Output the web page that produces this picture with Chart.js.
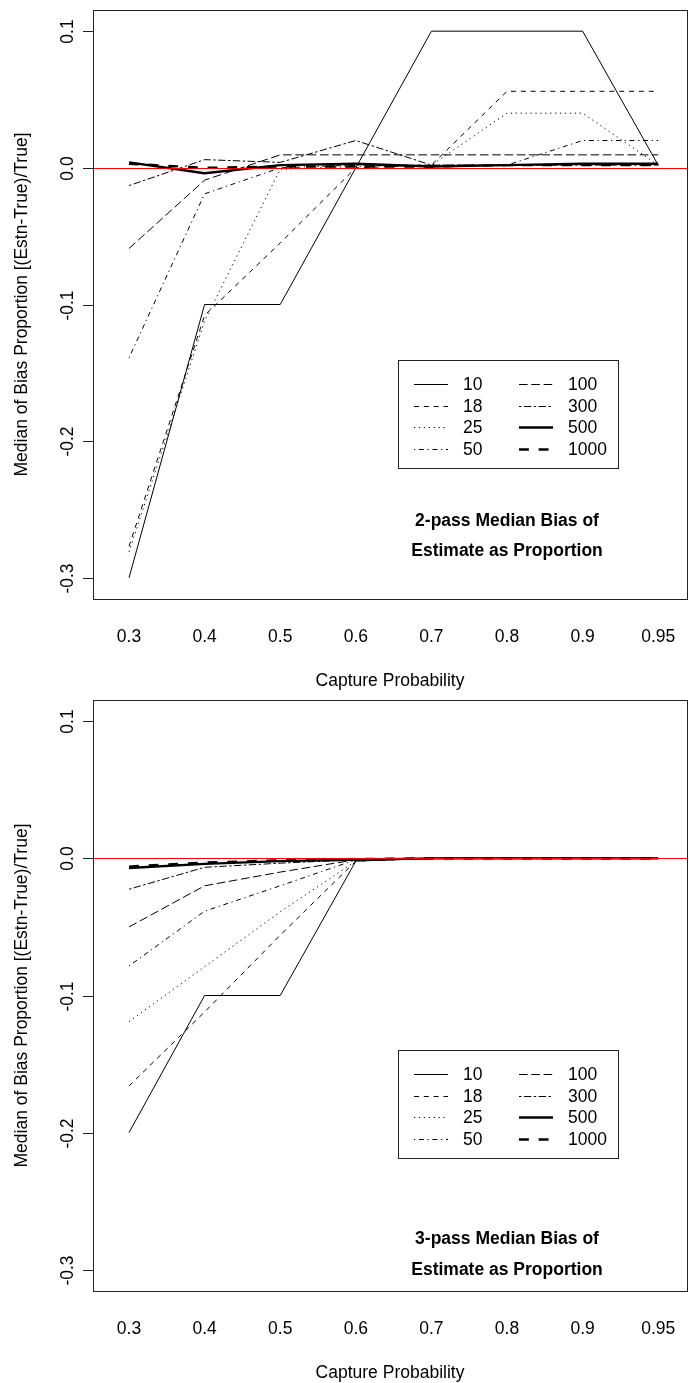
<!DOCTYPE html>
<html>
<head>
<meta charset="utf-8">
<script src="https://cdn.jsdelivr.net/npm/chart.js@4.4.1/dist/chart.umd.min.js"></script>
<style>
  body { margin: 0; background: #fff; }
  canvas { display: block; }
</style>
</head>
<body>
<canvas id="twoPass" width="689" height="691"></canvas>
<canvas id="threePass" width="689" height="692"></canvas>
<script>
// x categories (capture probability) and series names (population size)
const captureProb = ['0.3', '0.4', '0.5', '0.6', '0.7', '0.8', '0.9', '0.95'];
const popSizes = ['10', '18', '25', '50', '100', '300', '500', '1000'];
const yTicks = [0.1, 0.0, -0.1, -0.2, -0.3];
const yTickLabels = ['0.1', '0.0', '-0.1', '-0.2', '-0.3'];

// 2-pass median bias
const two10   = [-0.300, -0.100, -0.100, 0.000, 0.100, 0.100, 0.100, 0.002];
const two18   = [-0.277, -0.108, -0.055, 0.000, 0.002, 0.056, 0.056, 0.056];
const two25   = [-0.281, -0.112, -0.001, 0.001, 0.002, 0.040, 0.040, 0.002];
const two50   = [-0.139, -0.019, 0.000, 0.002, 0.002, 0.002, 0.020, 0.020];
const two100  = [-0.059, -0.009, 0.0095, 0.0095, 0.0095, 0.0095, 0.0095, 0.0095];
const two300  = [-0.013, 0.006, 0.004, 0.020, 0.002, 0.002, 0.002, 0.002];
const two500  = [0.004, -0.004, 0.002, 0.003, 0.001, 0.002, 0.003, 0.003];
const two1000 = [0.003, 0.000, 0.001, 0.001, 0.001, 0.002, 0.002, 0.002];

// 3-pass median bias
const three10   = [-0.200, -0.100, -0.100, -0.002, 0, 0, 0, 0];
const three18   = [-0.166, -0.112, -0.056, -0.002, 0, 0, 0, 0];
const three25   = [-0.119, -0.079, -0.039, -0.002, 0, 0, 0, 0];
const three50   = [-0.0785, -0.0385, -0.020, -0.001, 0, 0, 0, 0];
const three100  = [-0.050, -0.020, -0.010, -0.001, 0, 0, 0, 0];
const three300  = [-0.0225, -0.0065, -0.0035, -0.001, 0, 0, 0, 0];
const three500  = [-0.007, -0.004, -0.002, -0.001, 0, 0, 0, 0];
const three1000 = [-0.006, -0.003, -0.0015, -0.0005, 0, 0, 0, 0];

// R lty look-alikes: 1 solid, 2 dashed, 3 dotted, 4 dotdash, 5 longdash, 6 twodash, then thick solid / thick dashed
const u = 1.23;
const lineStyles = [
  { dash: [], width: 1 },
  { dash: [4 * u, 4 * u], width: 1 },
  { dash: [1 * u, 3 * u], width: 1 },
  { dash: [1 * u, 3 * u, 4 * u, 3 * u], width: 1 },
  { dash: [7 * u, 3 * u], width: 1 },
  { dash: [2 * u, 2 * u, 6 * u, 2 * u], width: 1 },
  { dash: [], width: 2.4 },
  { dash: [8 * u, 8 * u], width: 2.4 }
];

const FONT = '"Liberation Sans", Arial, sans-serif';

function makeDatasets(series) {
  return series.map((vals, i) => ({
    label: popSizes[i],
    data: vals.map((v, j) => ({ x: j + 1, y: v })),
    borderColor: '#000',
    borderWidth: lineStyles[i].width,
    borderDash: lineStyles[i].dash,
    borderJoinStyle: 'round',
    pointRadius: 0,
    tension: 0,
    fill: false
  }));
}

// draws the R-style frame, axes, legend and title text
const rPlot = {
  id: 'rPlot',
  afterDatasetsDraw(chart, args, opts) {
    const { ctx, chartArea: a, scales: { x, y } } = chart;
    ctx.save();

    // red zero line
    const y0 = Math.round(y.getPixelForValue(0)) + 0.5;
    ctx.strokeStyle = '#ff0000';
    ctx.lineWidth = 1;
    ctx.setLineDash([]);
    ctx.beginPath();
    ctx.moveTo(a.left, y0);
    ctx.lineTo(a.right, y0);
    ctx.stroke();

    // box
    ctx.strokeStyle = '#222';
    ctx.strokeRect(Math.round(a.left) - 0.5, Math.round(a.top) + 0.5,
      Math.round(a.right - a.left), Math.round(a.bottom - a.top));

    // y ticks with rotated labels
    ctx.fillStyle = '#000';
    ctx.font = '17.5px ' + FONT;
    yTicks.forEach((t, i) => {
      const py = Math.round(y.getPixelForValue(t)) + 0.5;
      ctx.beginPath();
      ctx.moveTo(a.left - 11, py);
      ctx.lineTo(a.left, py);
      ctx.stroke();
      ctx.save();
      ctx.translate(a.left - 21.5, py);
      ctx.rotate(-Math.PI / 2);
      ctx.textAlign = 'center';
      ctx.textBaseline = 'alphabetic';
      ctx.fillText(yTickLabels[i], 0, 0);
      ctx.restore();
    });

    // x labels
    ctx.textAlign = 'center';
    ctx.textBaseline = 'middle';
    captureProb.forEach((lab, i) => {
      ctx.fillText(lab, x.getPixelForValue(i + 1), a.bottom + 38);
    });
    ctx.fillText('Capture Probability', (a.left + a.right) / 2 - 1, a.bottom + 82);

    // y title
    ctx.save();
    ctx.translate(22, (a.top + a.bottom) / 2);
    ctx.rotate(-Math.PI / 2);
    ctx.fillText('Median of Bias Proportion [(Estn-True)/True]', 0, 0);
    ctx.restore();

    // legend
    const lx = a.left + 304, ly = a.top + 350;
    ctx.strokeStyle = '#222';
    ctx.lineWidth = 1;
    ctx.setLineDash([]);
    ctx.strokeRect(Math.round(lx) + 0.5, Math.round(ly) + 0.5, 220, 108);
    ctx.textAlign = 'left';
    chart.data.datasets.forEach((ds, i) => {
      const col = Math.floor(i / 4), row = i % 4;
      const sx = lx + 16 + col * 105;
      const sy = Math.round(ly + 24 + row * 21.7) + 0.5;
      ctx.strokeStyle = '#000';
      ctx.lineWidth = ds.borderWidth;
      ctx.setLineDash(ds.borderDash);
      ctx.beginPath();
      ctx.moveTo(sx, sy);
      ctx.lineTo(sx + 34, sy);
      ctx.stroke();
      ctx.fillText(ds.label, sx + 49, sy + 1);
    });
    ctx.setLineDash([]);

    // in-plot title
    ctx.font = 'bold 17.5px ' + FONT;
    ctx.textAlign = 'center';
    opts.title.forEach((line, i) => {
      ctx.fillText(line, x.getPixelForValue(opts.titleX), y.getPixelForValue(opts.titleY[i]));
    });

    ctx.restore();
  }
};

function makeChart(id, series, padTop, titleLines, titleY) {
  return new Chart(document.getElementById(id), {
    type: 'line',
    data: { datasets: makeDatasets(series) },
    options: {
      responsive: false,
      animation: false,
      devicePixelRatio: 1,
      layout: { padding: { left: 94, right: 1, top: padTop, bottom: 92 } },
      scales: {
        x: { type: 'linear', min: 0.537, max: 8.394, display: false },
        y: { type: 'linear', min: -0.3155, max: 0.1155, display: false }
      },
      plugins: {
        legend: { display: false },
        tooltip: { enabled: false },
        rPlot: { title: titleLines, titleX: 6, titleY: titleY }
      }
    },
    plugins: [rPlot]
  });
}

makeChart('twoPass',
  [two10, two18, two25, two50, two100, two300, two500, two1000], 10,
  ['2-pass Median Bias of', 'Estimate as Proportion'], [-0.2585, -0.2805]);

makeChart('threePass',
  [three10, three18, three25, three50, three100, three300, three500, three1000], 9,
  ['3-pass Median Bias of', 'Estimate as Proportion'], [-0.278, -0.300]);
</script>
</body>
</html>
